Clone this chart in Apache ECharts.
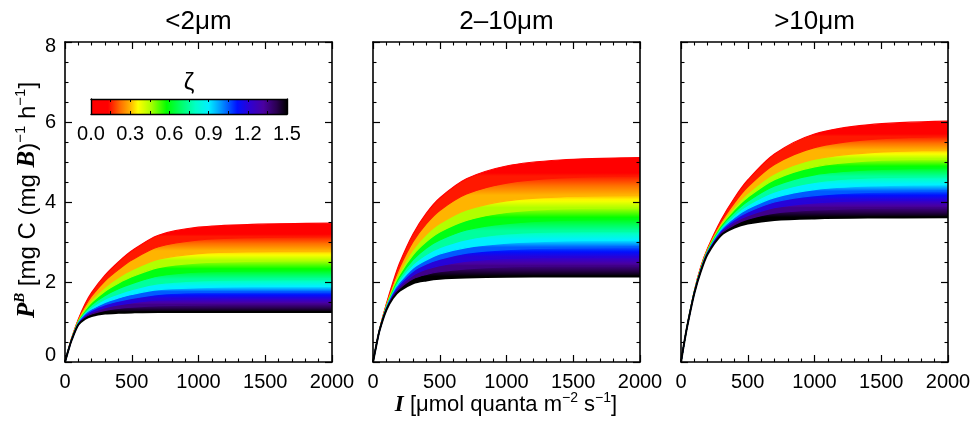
<!DOCTYPE html>
<html><head><meta charset="utf-8">
<script src="https://cdn.jsdelivr.net/npm/echarts@6/dist/echarts.min.js"></script>
<style>html,body{margin:0;padding:0;background:#fff}#c{width:979px;height:426px}</style>
</head><body><div id="c"></div>
<script>
// ---------------- data ----------------
const PANEL_TITLES = ['<2μm', '2–10μm', '>10μm'];
const IRRADIANCE = [0, 25, 50, 100, 150, 200, 300, 400, 500, 700, 1000, 1400, 2000];
const ZETA = [0, 0.15, 0.3, 0.45, 0.6, 0.75, 0.9, 1.05, 1.2, 1.35, 1.5];
const X_TICKS = [0, 500, 1000, 1500, 2000];
const Y_TICKS = [0, 2, 4, 6, 8];
const CBAR_TICKS = [0.0, 0.3, 0.6, 0.9, 1.2, 1.5];

// P^B curves, one row per zeta level, columns follow IRRADIANCE
const PB_LT2 = [
  [0, 0.31, 0.60, 1.07, 1.45, 1.74, 2.17, 2.50, 2.78, 3.17, 3.37, 3.44, 3.47],
  [0, 0.31, 0.59, 1.05, 1.39, 1.65, 2.03, 2.31, 2.55, 2.88, 3.05, 3.11, 3.14],
  [0, 0.30, 0.58, 1.03, 1.34, 1.56, 1.87, 2.11, 2.30, 2.57, 2.71, 2.76, 2.78],
  [0, 0.30, 0.58, 1.01, 1.29, 1.49, 1.77, 1.97, 2.13, 2.36, 2.48, 2.52, 2.54],
  [0, 0.30, 0.57, 1.00, 1.25, 1.43, 1.66, 1.83, 1.96, 2.15, 2.25, 2.28, 2.29],
  [0, 0.30, 0.57, 0.98, 1.22, 1.37, 1.57, 1.70, 1.81, 1.96, 2.03, 2.06, 2.07],
  [0, 0.30, 0.56, 0.97, 1.19, 1.32, 1.49, 1.60, 1.69, 1.81, 1.86, 1.89, 1.89],
  [0, 0.29, 0.56, 0.96, 1.17, 1.29, 1.43, 1.52, 1.59, 1.69, 1.74, 1.75, 1.76],
  [0, 0.29, 0.56, 0.95, 1.14, 1.24, 1.36, 1.43, 1.48, 1.55, 1.58, 1.59, 1.59],
  [0, 0.29, 0.55, 0.94, 1.11, 1.20, 1.29, 1.34, 1.37, 1.41, 1.43, 1.44, 1.44],
  [0, 0.29, 0.55, 0.93, 1.08, 1.15, 1.21, 1.23, 1.24, 1.25, 1.25, 1.25, 1.25]
];
const PB_2TO10 = [
  [0, 0.43, 0.83, 1.45, 2.00, 2.48, 3.20, 3.72, 4.10, 4.58, 4.90, 5.05, 5.11],
  [0, 0.43, 0.83, 1.43, 1.94, 2.37, 3.01, 3.46, 3.79, 4.20, 4.47, 4.60, 4.65],
  [0, 0.43, 0.82, 1.40, 1.87, 2.26, 2.81, 3.19, 3.46, 3.80, 4.03, 4.13, 4.17],
  [0, 0.43, 0.82, 1.39, 1.83, 2.19, 2.68, 3.01, 3.25, 3.54, 3.74, 3.83, 3.86],
  [0, 0.42, 0.81, 1.37, 1.79, 2.12, 2.56, 2.85, 3.05, 3.30, 3.46, 3.54, 3.57],
  [0, 0.42, 0.81, 1.36, 1.75, 2.05, 2.44, 2.69, 2.86, 3.06, 3.20, 3.26, 3.28],
  [0, 0.42, 0.81, 1.35, 1.72, 1.99, 2.35, 2.55, 2.70, 2.86, 2.97, 3.03, 3.05],
  [0, 0.42, 0.81, 1.34, 1.70, 1.95, 2.27, 2.45, 2.57, 2.72, 2.81, 2.85, 2.87],
  [0, 0.42, 0.80, 1.32, 1.67, 1.90, 2.17, 2.32, 2.41, 2.52, 2.59, 2.62, 2.63],
  [0, 0.42, 0.80, 1.31, 1.64, 1.84, 2.08, 2.19, 2.26, 2.33, 2.38, 2.40, 2.41],
  [0, 0.42, 0.80, 1.30, 1.60, 1.78, 1.97, 2.04, 2.08, 2.11, 2.13, 2.14, 2.14]
];
const PB_GT10 = [
  [0, 0.50, 0.97, 1.78, 2.40, 2.85, 3.55, 4.10, 4.55, 5.20, 5.70, 5.93, 6.02],
  [0, 0.50, 0.97, 1.77, 2.38, 2.83, 3.49, 3.98, 4.38, 4.94, 5.36, 5.56, 5.64],
  [0, 0.50, 0.96, 1.76, 2.36, 2.81, 3.44, 3.88, 4.22, 4.71, 5.07, 5.23, 5.30],
  [0, 0.50, 0.96, 1.76, 2.35, 2.79, 3.40, 3.81, 4.12, 4.56, 4.88, 5.03, 5.08],
  [0, 0.50, 0.96, 1.75, 2.34, 2.78, 3.37, 3.74, 4.02, 4.40, 4.68, 4.80, 4.86],
  [0, 0.50, 0.96, 1.75, 2.33, 2.76, 3.33, 3.67, 3.92, 4.25, 4.49, 4.60, 4.64],
  [0, 0.50, 0.96, 1.74, 2.32, 2.75, 3.30, 3.61, 3.83, 4.11, 4.31, 4.40, 4.44],
  [0, 0.50, 0.95, 1.74, 2.31, 2.74, 3.27, 3.56, 3.75, 4.00, 4.16, 4.24, 4.27],
  [0, 0.50, 0.95, 1.73, 2.30, 2.73, 3.24, 3.50, 3.66, 3.86, 3.98, 4.04, 4.06],
  [0, 0.50, 0.95, 1.73, 2.29, 2.72, 3.21, 3.43, 3.57, 3.72, 3.80, 3.84, 3.86],
  [0, 0.50, 0.95, 1.72, 2.28, 2.70, 3.17, 3.36, 3.46, 3.55, 3.59, 3.61, 3.62]
];
const PANEL_DATA = [PB_LT2, PB_2TO10, PB_GT10];

// ---------------- style ----------------
const SANS = 'Liberation Sans';
const SERIF = 'Liberation Serif';
const CMAP = [[0,'#ff0000'],[0.13,'#ff0000'],[0.22,'#ff6a00'],[0.30,'#ffb400'],[0.36,'#ffff00'],
  [0.46,'#a8ff00'],[0.58,'#00ff00'],[0.68,'#00ff60'],[0.80,'#00ffc8'],[0.90,'#00f0ff'],
  [1.00,'#0090ff'],[1.12,'#0010ff'],[1.22,'#3000d0'],[1.32,'#4a00a0'],[1.42,'#2a0050'],[1.50,'#000000']];
function hex2rgb(h){return [parseInt(h.substr(1,2),16),parseInt(h.substr(3,2),16),parseInt(h.substr(5,2),16)];}
function colorAt(z){
  if (z <= CMAP[0][0]) return CMAP[0][1];
  for (let i = 1; i < CMAP.length; i++) {
    if (z <= CMAP[i][0]) {
      const t = (z - CMAP[i-1][0]) / (CMAP[i][0] - CMAP[i-1][0]);
      const a = hex2rgb(CMAP[i-1][1]), b = hex2rgb(CMAP[i][1]);
      return 'rgb(' + a.map((v,j)=>Math.round(v + (b[j]-v)*t)).join(',') + ')';
    }
  }
  return CMAP[CMAP.length-1][1];
}

const GRID_LEFT = [65, 373, 681];
const GRID_TOP = 42, GRID_W = 267, GRID_H = 320;
const CB = {left: 91, top: 99, width: 196, height: 15};

const grids = GRID_LEFT.map(l => ({left: l, top: GRID_TOP, width: GRID_W, height: GRID_H}));
grids.push({left: CB.left, top: CB.top, width: CB.width, height: CB.height});

const lineBlack = {color: '#000', width: 1.6};
function xAx(gi, pos, showLabel) {
  return {gridIndex: gi, type: 'value', position: pos, min: 0, max: 2000, interval: 500, z: 10,
    axisLine: {show: true, onZero: false, lineStyle: lineBlack},
    axisTick: {show: true, inside: true, length: 7, lineStyle: {color: '#000', width: 1.2}},
    minorTick: {show: true, splitNumber: 5, length: 3.5, lineStyle: {color: '#000', width: 1.1}},
    axisLabel: {show: showLabel, fontSize: 20, color: '#000', margin: 10, fontFamily: SANS,
      formatter: v => String(v)},
    splitLine: {show: false}, minorSplitLine: {show: false}};
}
function yAx(gi, pos, showLabel) {
  return {gridIndex: gi, type: 'value', position: pos, min: 0, max: 8, interval: 2, z: 10,
    axisLine: {show: true, onZero: false, lineStyle: lineBlack},
    axisTick: {show: true, inside: true, length: 7, lineStyle: {color: '#000', width: 1.2}},
    minorTick: {show: true, splitNumber: 4, length: 3.5, lineStyle: {color: '#000', width: 1.1}},
    axisLabel: {show: showLabel, fontSize: 20, color: '#000', margin: 9, fontFamily: SANS,
      formatter: v => v === Y_TICKS[0] ? '{lo|' + v + '}' : (v === Y_TICKS[Y_TICKS.length-1] ? '{hi|' + v + '}' : '{n|' + v + '}'),
      rich: {lo: {fontSize: 20, fontFamily: SANS, padding: [0,0,13,0]},
             hi: {fontSize: 20, fontFamily: SANS, padding: [9,0,0,0]},
             n: {fontSize: 20, fontFamily: SANS}}},
    splitLine: {show: false}, minorSplitLine: {show: false}};
}

const xAxis = [], yAxis = [];
for (let p = 0; p < 3; p++) {
  xAxis.push(xAx(p, 'bottom', true), xAx(p, 'top', false));
  yAxis.push(yAx(p, 'left', p === 0), yAx(p, 'right', false));
}
// colour bar axes
function cbX(pos, showLabel) {
  return {gridIndex: 3, type: 'value', position: pos, min: 0, max: 1.5, interval: 0.3, z: 10,
    axisLine: {show: true, onZero: false, lineStyle: {color: '#000', width: 1.4}},
    axisTick: {show: true, inside: true, length: 3, lineStyle: {color: '#000', width: 1}},
    minorTick: {show: true, splitNumber: 2, length: 3, lineStyle: {color: '#000', width: 1}},
    axisLabel: {show: showLabel, fontSize: 20, color: '#000', margin: 10, fontFamily: SANS,
      formatter: v => v.toFixed(1)},
    splitLine: {show: false}};
}
xAxis.push(cbX('bottom', true), cbX('top', false));
function cbY(pos) {
  return {gridIndex: 3, type: 'value', position: pos, min: 0, max: 1, z: 10,
    axisLine: {show: true, onZero: false, lineStyle: {color: '#000', width: 1.4}},
    axisTick: {show: false}, axisLabel: {show: false}, splitLine: {show: false}};
}
yAxis.push(cbY('left'), cbY('right'));

// series
const series = [];
PANEL_DATA.forEach((rows, p) => {
  ZETA.forEach((z, k) => {
    const vals = rows[k];
    const isLast = k === ZETA.length - 1;
    let area;
    if (isLast) {
      area = {color: '#ffffff', opacity: 1};
    } else {
      const top = Math.max(...vals);
      const next = Math.max(...rows[k + 1]);
      const o1 = (top - next) / top;
      const stops = [];
      for (let j = 0; j <= 6; j++) {
        stops.push({offset: o1 * j / 6, color: colorAt(z + (ZETA[k + 1] - z) * j / 6)});
      }
      stops.push({offset: 1, color: colorAt(ZETA[k + 1])});
      area = {color: new echarts.graphic.LinearGradient(0, 0, 0, 1, stops), opacity: 1};
    }
    series.push({
      type: 'line', name: PANEL_TITLES[p] + ' ζ=' + z.toFixed(2),
      xAxisIndex: 2 * p, yAxisIndex: 2 * p,
      data: IRRADIANCE.map((x, i) => [x, vals[i]]),
      smooth: 0.3, symbol: 'none', silent: true,
      lineStyle: {color: isLast ? '#000' : colorAt(z), width: isLast ? 2 : 1.2},
      areaStyle: area, z: 2
    });
  });
});

// graphic texts
const graphic = [];
PANEL_TITLES.forEach((t, p) => {
  graphic.push({type: 'text', x: GRID_LEFT[p] + GRID_W / 2, y: 22, z: 20,
    style: {text: t, font: '26px "Liberation Sans"', fill: '#000', align: 'center', verticalAlign: 'middle'}});
});
const cbStops = CMAP.map(s => ({offset: s[0] / 1.5, color: s[1]}));
graphic.push({type: 'rect', z: 1, shape: {x: CB.left, y: CB.top, width: CB.width, height: CB.height},
  style: {fill: new echarts.graphic.LinearGradient(0, 0, 1, 0, cbStops)}});
graphic.push({type: 'text', x: CB.left + CB.width / 2, y: 83, z: 20,
  style: {text: 'ζ', font: '24px "Liberation Sans"', fill: '#000', align: 'center', verticalAlign: 'middle'}});

function richSet(main) {
  const sup = Math.round(main * 0.62);
  return {
    n: {fontSize: main, fontFamily: SANS, lineHeight: main + 6, fill: '#000'},
    s: {fontSize: sup, fontFamily: SANS, lineHeight: sup + 1, verticalAlign: 'top', fill: '#000'},
    it: {fontSize: main + 1, fontFamily: SERIF, fontWeight: 'bold', fontStyle: 'italic', lineHeight: main + 6, fill: '#000'},
    sit: {fontSize: sup, fontFamily: SERIF, fontWeight: 'bold', fontStyle: 'italic', lineHeight: sup + 1, verticalAlign: 'top', fill: '#000'}
  };
}
graphic.push({type: 'text', x: 28, y: 200, rotation: Math.PI / 2, z: 20,
  style: {text: '{it|P}{sit|B}{n| [mg C (mg }{it|B}{n|)}{s|−1}{n| h}{s|−1}{n|]}',
    rich: richSet(24), align: 'center', verticalAlign: 'middle'}});
graphic.push({type: 'text', x: 506, y: 405, z: 20,
  style: {text: '{it|I}{n| [μmol quanta m}{s|−2}{n| s}{s|−1}{n|]}',
    rich: richSet(22), align: 'center', verticalAlign: 'middle'}});

const chart = echarts.init(document.getElementById('c'), null, {renderer: 'canvas'});
chart.setOption({
  animation: false,
  backgroundColor: '#ffffff',
  grid: grids, xAxis, yAxis, series, graphic
});
</script></body></html>
